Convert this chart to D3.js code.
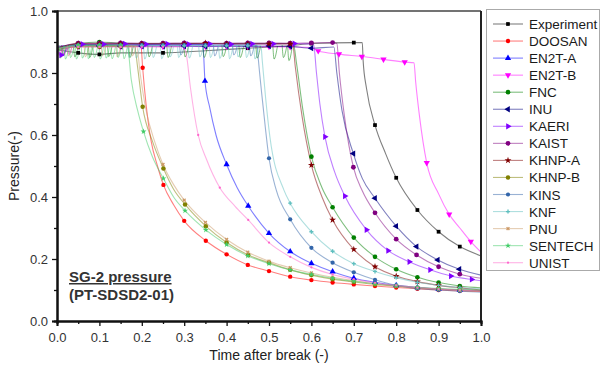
<!DOCTYPE html>
<html>
<head>
<meta charset="utf-8">
<script src="https://cdn.jsdelivr.net/npm/d3@7"></script>
<style>
  body { margin: 0; background: #fff; }
  svg { font-family: "Liberation Sans", Arial, sans-serif; }
</style>
</head>
<body>
<svg id="chart" width="600" height="367"></svg>
<script>
// series: [time, pressure, marker?]
const experiment = [[0,0.875,0],[0.05,0.865,1],[0.1,0.86,1],[0.15,0.865,0],[0.25,0.865,1],[0.35,0.872,0],[0.45,0.88,1],[0.55,0.888,0],[0.6,0.895,1],[0.7,0.898,1],[0.72,0.898,0],[0.722,0.84,0],[0.73,0.75,0],[0.75,0.632,1],[0.775,0.54,0],[0.8,0.462,1],[0.85,0.358,1],[0.9,0.288,1],[0.95,0.24,1],[1,0.21,0]];
const doosan = [[0,0.885,0],[0.05,0.888,1],[0.1,0.89,1],[0.15,0.888,1],[0.198,0.888,0],[0.202,0.817,1],[0.21,0.7,0],[0.222,0.58,0],[0.237,0.5,0],[0.251,0.439,1],[0.275,0.375,0],[0.3,0.323,1],[0.351,0.259,1],[0.4,0.215,1],[0.45,0.181,1],[0.5,0.161,1],[0.55,0.143,1],[0.6,0.132,1],[0.65,0.124,1],[0.7,0.118,1],[0.75,0.113,1],[0.8,0.108,1],[0.85,0.104,1],[0.9,0.1,1],[0.95,0.097,1],[1,0.095,0]];
const en2tA = [[0,0.885,0],[0.05,0.892,1],[0.1,0.892,1],[0.15,0.893,1],[0.2,0.892,1],[0.25,0.892,1],[0.3,0.893,1],[0.344,0.892,0],[0.349,0.774,1],[0.36,0.69,0],[0.375,0.6,0],[0.4,0.505,1],[0.425,0.43,0],[0.451,0.371,1],[0.5,0.283,1],[0.55,0.224,1],[0.6,0.186,1],[0.65,0.159,1],[0.7,0.138,1],[0.75,0.125,1],[0.8,0.115,1],[0.85,0.108,1],[0.9,0.103,1],[0.95,0.1,1],[1,0.098,0]];
const en2tB = [[0,0.868,0],[0.02,0.88,0],[0.05,0.885,1],[0.1,0.886,1],[0.15,0.885,1],[0.2,0.886,1],[0.25,0.885,1],[0.3,0.886,1],[0.35,0.885,1],[0.4,0.886,1],[0.45,0.885,1],[0.5,0.885,1],[0.55,0.884,1],[0.6,0.882,0],[0.616,0.871,1],[0.665,0.861,1],[0.719,0.853,1],[0.77,0.844,1],[0.82,0.835,1],[0.842,0.833,0],[0.846,0.77,0],[0.855,0.66,0],[0.872,0.51,1],[0.9,0.41,0],[0.925,0.344,1],[0.95,0.3,0],[0.976,0.256,1],[1,0.222,0]];
const fnc = [[0,0.88,0],[0.05,0.895,1],[0.1,0.9,1],[0.15,0.896,1],[0.2,0.895,1],[0.25,0.895,1],[0.3,0.895,1],[0.35,0.894,1],[0.4,0.895,1],[0.45,0.895,1],[0.5,0.895,1],[0.55,0.895,1],[0.558,0.892,0],[0.565,0.83,0],[0.58,0.68,0],[0.6,0.53,1],[0.625,0.43,0],[0.65,0.367,1],[0.7,0.269,1],[0.75,0.207,1],[0.8,0.167,1],[0.85,0.141,1],[0.9,0.124,1],[0.95,0.113,1],[1,0.107,0]];
const inu = [[0,0.875,0],[0.05,0.887,1],[0.1,0.887,1],[0.15,0.886,1],[0.2,0.887,1],[0.25,0.887,1],[0.3,0.887,1],[0.35,0.886,1],[0.4,0.887,1],[0.45,0.886,1],[0.5,0.887,1],[0.55,0.886,1],[0.6,0.88,1],[0.653,0.884,0],[0.66,0.8,0],[0.672,0.68,0],[0.699,0.54,1],[0.72,0.46,0],[0.75,0.396,1],[0.8,0.306,1],[0.848,0.24,1],[0.898,0.197,1],[0.949,0.167,1],[1,0.148,0]];
const kaeri = [[0,0.87,0],[0.01,0.858,1],[0.03,0.885,0],[0.06,0.893,1],[0.11,0.893,1],[0.16,0.894,1],[0.21,0.893,1],[0.26,0.894,1],[0.31,0.893,1],[0.36,0.894,1],[0.41,0.893,1],[0.46,0.894,1],[0.51,0.894,1],[0.56,0.895,1],[0.605,0.893,0],[0.612,0.8,0],[0.62,0.7,0],[0.632,0.594,1],[0.655,0.48,0],[0.679,0.403,1],[0.73,0.294,1],[0.781,0.227,1],[0.831,0.191,1],[0.88,0.165,1],[0.929,0.145,1],[0.978,0.134,1],[1,0.13,0]];
const kaist = [[0,0.88,0],[0.05,0.896,1],[0.1,0.896,1],[0.15,0.897,1],[0.2,0.896,1],[0.25,0.896,1],[0.3,0.897,1],[0.35,0.896,1],[0.4,0.896,1],[0.45,0.897,1],[0.5,0.897,1],[0.55,0.896,1],[0.6,0.897,1],[0.65,0.898,1],[0.66,0.895,0],[0.666,0.8,0],[0.678,0.66,0],[0.699,0.496,1],[0.72,0.42,0],[0.75,0.349,1],[0.8,0.264,1],[0.848,0.213,1],[0.9,0.175,1],[0.95,0.151,1],[1,0.138,0]];
const khnpA = [[0,0.88,0],[0.05,0.894,1],[0.1,0.894,1],[0.15,0.894,1],[0.2,0.894,1],[0.25,0.894,1],[0.3,0.894,1],[0.35,0.896,1],[0.4,0.894,1],[0.45,0.894,1],[0.5,0.894,1],[0.55,0.894,1],[0.556,0.892,0],[0.562,0.82,0],[0.578,0.66,0],[0.6,0.503,1],[0.625,0.4,0],[0.65,0.326,1],[0.7,0.231,1],[0.75,0.175,1],[0.8,0.145,1],[0.85,0.127,1],[0.9,0.115,1],[0.95,0.107,1],[1,0.1,0]];
const khnpB = [[0,0.875,0],[0.05,0.885,1],[0.1,0.885,1],[0.15,0.886,1],[0.183,0.885,0],[0.19,0.82,0],[0.202,0.691,1],[0.225,0.58,0],[0.251,0.492,1],[0.275,0.425,0],[0.302,0.376,1],[0.351,0.306,1],[0.4,0.253,1],[0.451,0.213,1],[0.5,0.188,1],[0.55,0.165,1],[0.6,0.148,1],[0.65,0.135,1],[0.7,0.126,1],[0.75,0.118,1],[0.8,0.112,1],[0.85,0.107,1],[0.9,0.103,1],[0.95,0.1,1],[1,0.098,0]];
const kins = [[0,0.88,0],[0.05,0.89,1],[0.1,0.89,1],[0.15,0.89,1],[0.2,0.89,1],[0.25,0.89,1],[0.3,0.89,1],[0.35,0.89,1],[0.4,0.89,1],[0.45,0.89,1],[0.472,0.889,0],[0.475,0.842,0],[0.487,0.68,0],[0.5,0.525,1],[0.517,0.423,0],[0.55,0.328,1],[0.6,0.236,1],[0.65,0.188,1],[0.7,0.157,1],[0.75,0.133,1],[0.8,0.115,1],[0.85,0.105,1],[0.9,0.1,1],[0.95,0.096,1],[1,0.093,0]];
const knf = [[0,0.88,0],[0.05,0.888,1],[0.1,0.888,1],[0.15,0.888,1],[0.2,0.888,1],[0.25,0.888,1],[0.3,0.888,1],[0.35,0.888,1],[0.4,0.888,1],[0.45,0.888,1],[0.481,0.888,0],[0.484,0.842,0],[0.492,0.72,0],[0.502,0.595,0],[0.535,0.423,0],[0.55,0.38,1],[0.6,0.288,1],[0.65,0.225,1],[0.7,0.185,1],[0.75,0.16,1],[0.8,0.14,1],[0.85,0.125,1],[0.9,0.115,1],[0.95,0.108,1],[1,0.103,0]];
const pnu = [[0,0.878,0],[0.05,0.886,1],[0.1,0.886,1],[0.15,0.886,1],[0.188,0.886,0],[0.196,0.8,0],[0.21,0.68,0],[0.23,0.58,0],[0.25,0.505,1],[0.275,0.44,0],[0.3,0.39,1],[0.35,0.318,1],[0.4,0.263,1],[0.45,0.222,1],[0.5,0.193,1],[0.55,0.172,1],[0.6,0.155,1],[0.65,0.141,1],[0.7,0.13,1],[0.75,0.12,1],[0.8,0.113,1],[0.85,0.107,1],[0.9,0.103,1],[0.95,0.099,1],[1,0.096,0]];
const sentech = [[0,0.87,0],[0.05,0.89,1],[0.1,0.89,1],[0.15,0.89,1],[0.166,0.888,0],[0.175,0.78,0],[0.19,0.68,0],[0.204,0.611,1],[0.225,0.53,0],[0.251,0.46,1],[0.275,0.4,0],[0.302,0.356,1],[0.351,0.294,1],[0.4,0.247,1],[0.45,0.21,1],[0.5,0.185,1],[0.55,0.165,1],[0.6,0.15,1],[0.65,0.138,1],[0.7,0.128,1],[0.75,0.12,1],[0.8,0.114,1],[0.85,0.109,1],[0.9,0.105,1],[0.95,0.102,1],[1,0.1,0]];
const unist = [[0,0.855,0],[0.01,0.87,0],[0.03,0.884,0],[0.05,0.884,1],[0.1,0.884,1],[0.15,0.884,1],[0.2,0.884,1],[0.25,0.884,1],[0.3,0.884,0],[0.305,0.86,0],[0.315,0.75,0],[0.333,0.6,1],[0.353,0.52,0],[0.384,0.43,1],[0.42,0.37,0],[0.451,0.326,1],[0.5,0.253,1],[0.55,0.207,1],[0.6,0.173,1],[0.65,0.15,1],[0.7,0.135,1],[0.75,0.123,1],[0.8,0.115,1],[0.85,0.108,1],[0.9,0.103,1],[0.95,0.1,1],[1,0.097,0]];

// noise spikes on the plateau: [time, lowest pressure]
const spikeTop = 0.89;
const sentechSpikes = [[0.006,0.848],[0.018,0.845],[0.03,0.85],[0.044,0.845],[0.058,0.848],[0.072,0.846],[0.086,0.85],[0.1,0.845],[0.114,0.848],[0.128,0.846],[0.142,0.85],[0.156,0.846]];
const fncSpikes = [[0.012,0.855],[0.04,0.852],[0.075,0.85],[0.12,0.853],[0.17,0.85],[0.215,0.852],[0.26,0.85],[0.3,0.852],[0.345,0.85],[0.39,0.853],[0.43,0.85],[0.47,0.848],[0.51,0.845],[0.532,0.85],[0.545,0.84]];
const knfSpikes = [[0.168,0.85],[0.185,0.848],[0.205,0.845],[0.225,0.85],[0.245,0.846],[0.265,0.852],[0.285,0.85],[0.31,0.848],[0.335,0.852],[0.36,0.85],[0.382,0.847],[0.405,0.846],[0.425,0.852],[0.445,0.85],[0.465,0.845]];
const pnuSpikes = [[0.025,0.855],[0.065,0.852],[0.105,0.855],[0.14,0.852],[0.176,0.855]];
const kinsSpikes = [[0.29,0.858],[0.37,0.855],[0.415,0.858],[0.455,0.855]];
const en2tBSpikes = [[0.004,0.855],[0.014,0.858],[0.026,0.86]];

const names = ["Experiment","DOOSAN","EN2T-A","EN2T-B","FNC","INU","KAERI","KAIST","KHNP-A","KHNP-B","KINS","KNF","PNU","SENTECH","UNIST"];
const seriesData = [experiment, doosan, en2tA, en2tB, fnc, inu, kaeri, kaist, khnpA, khnpB, kins, knf, pnu, sentech, unist];
const colors = ["#000000","#ff0000","#0000ff","#ff00ff","#008000","#000080","#8000ff","#800080","#800000","#808000","#3366aa","#5fbfbf","#cc9966","#40cc66","#ff66cc"];
const spikes = { "FNC": fncSpikes, "KNF": knfSpikes, "SENTECH": sentechSpikes, "PNU": pnuSpikes, "KINS": kinsSpikes, "EN2T-B": en2tBSpikes };

const xTicks = d3.range(0, 1.01, 0.1);
const yTicks = d3.range(0, 1.01, 0.2);

// marker shapes: [symbol, size, rotation]
const shapes = [
  [d3.symbolSquare, 14, 0], [d3.symbolCircle, 15, 0], [d3.symbolTriangle, 17, 0],
  [d3.symbolTriangle, 17, 180], [d3.symbolCircle, 17, 0], [d3.symbolTriangle, 17, -90],
  [d3.symbolTriangle, 17, 90], [d3.symbolCircle, 18, 0], [d3.symbolStar, 15, 0],
  [d3.symbolCircle, 16, 0], [d3.symbolCircle, 14, 0], [d3.symbolCross, 9, 0],
  [d3.symbolCross, 9, 45], [d3.symbolStar, 11, 0], [d3.symbolCircle, 4, 0]
];

const svg = d3.select("#chart");
const mLeft = 57, mRight = 481, mTop = 11, mBottom = 321;

const x = d3.scaleLinear().domain([0, 1]).range([mLeft, mRight]);
const y = d3.scaleLinear().domain([0, 1]).range([mBottom, mTop]);

const line = d3.line()
  .x(d => x(d[0]))
  .y(d => y(d[1]))
  .curve(d3.curveMonotoneX);

const plot = svg.append("g");

// lines
seriesData.forEach((data, i) => {
  const sp = spikes[names[i]];
  if (sp) {
    sp.forEach(s => {
      plot.append("path")
        .attr("d", line([[s[0] - 0.001, spikeTop], [s[0] + 0.002, s[1]], [s[0] + 0.01, spikeTop - 0.003]]))
        .attr("fill", "none")
        .attr("stroke", colors[i])
        .attr("stroke-opacity", 0.5)
        .attr("stroke-width", 1);
    });
  }
  plot.append("path")
    .attr("d", line(data))
    .attr("fill", "none")
    .attr("stroke", colors[i])
    .attr("stroke-opacity", 0.5)
    .attr("stroke-width", 1.1);
});

// markers
seriesData.forEach((data, i) => {
  const sh = shapes[i];
  const sym = d3.symbol().type(sh[0]).size(sh[1]);
  plot.selectAll(null)
    .data(data.filter(d => d[2]))
    .enter()
    .append("path")
    .attr("d", sym)
    .attr("transform", d => `translate(${x(d[0])},${y(d[1])}) rotate(${sh[2]})`)
    .attr("fill", colors[i]);
});

// frame
svg.append("line").attr("x1", mLeft).attr("x2", mRight).attr("y1", mTop).attr("y2", mTop)
  .attr("stroke", "#444").attr("stroke-width", 1.5);
svg.append("line").attr("x1", mRight).attr("x2", mRight).attr("y1", mTop).attr("y2", mBottom)
  .attr("stroke", "#222").attr("stroke-width", 2);

// axes
svg.append("g").attr("transform", `translate(0,${mBottom})`)
  .call(d3.axisBottom(x).tickValues(xTicks).tickFormat(d3.format(".1f")).tickSize(5).tickPadding(7));
svg.append("g").attr("transform", `translate(0,${mBottom})`)
  .call(d3.axisBottom(x).tickValues(d3.range(0.05, 1, 0.1)).tickFormat("").tickSize(3));
svg.append("g").attr("transform", `translate(${mLeft},0)`)
  .call(d3.axisLeft(y).tickValues(yTicks).tickFormat(d3.format(".1f")).tickSize(5).tickPadding(4));
svg.append("g").attr("transform", `translate(${mLeft},0)`)
  .call(d3.axisLeft(y).tickValues(d3.range(0.1, 1, 0.2)).tickFormat("").tickSize(3));

svg.selectAll(".domain").attr("stroke", "#111").attr("stroke-width", 2);
svg.selectAll(".tick line").attr("stroke", "#111").attr("stroke-width", 1.3);
svg.selectAll(".tick text").attr("font-size", 13).attr("fill", "#333")
  .attr("font-family", "Liberation Sans, Arial, sans-serif");

// axis titles
svg.append("text")
  .attr("x", (mLeft + mRight) / 2).attr("y", 360)
  .attr("text-anchor", "middle").attr("font-size", 14).attr("fill", "#222")
  .text("Time after break (-)");
svg.append("text")
  .attr("transform", `translate(19,${(mTop + mBottom) / 2}) rotate(-90)`)
  .attr("text-anchor", "middle").attr("font-size", 14).attr("fill", "#222")
  .text("Pressure(-)");

// annotation
svg.append("text")
  .attr("x", 69).attr("y", 282)
  .attr("font-size", 15).attr("font-weight", "bold").attr("fill", "#333")
  .attr("text-decoration", "underline")
  .text("SG-2 pressure");
svg.append("text")
  .attr("x", 69).attr("y", 300)
  .attr("font-size", 15).attr("font-weight", "bold").attr("fill", "#333")
  .text("(PT-SDSD2-01)");

// legend
const legend = svg.append("g");
legend.append("rect")
  .attr("x", 486.5).attr("y", 9.5).attr("width", 113).attr("height", 261)
  .attr("fill", "#fff").attr("stroke", "#aaa").attr("stroke-width", 1);

names.forEach((name, i) => {
  const ly = 24 + i * 17.05;
  const sh = shapes[i];
  legend.append("line")
    .attr("x1", 493).attr("x2", 523).attr("y1", ly).attr("y2", ly)
    .attr("stroke", colors[i]).attr("stroke-opacity", 0.5).attr("stroke-width", 1.1);
  legend.append("path")
    .attr("d", d3.symbol().type(sh[0]).size(sh[1])())
    .attr("transform", `translate(508,${ly}) rotate(${sh[2]})`)
    .attr("fill", colors[i]);
  legend.append("text")
    .attr("x", 529).attr("y", ly + 5)
    .attr("font-size", 13.5).attr("fill", "#1a1a1a")
    .text(name);
});
</script>
</body>
</html>
